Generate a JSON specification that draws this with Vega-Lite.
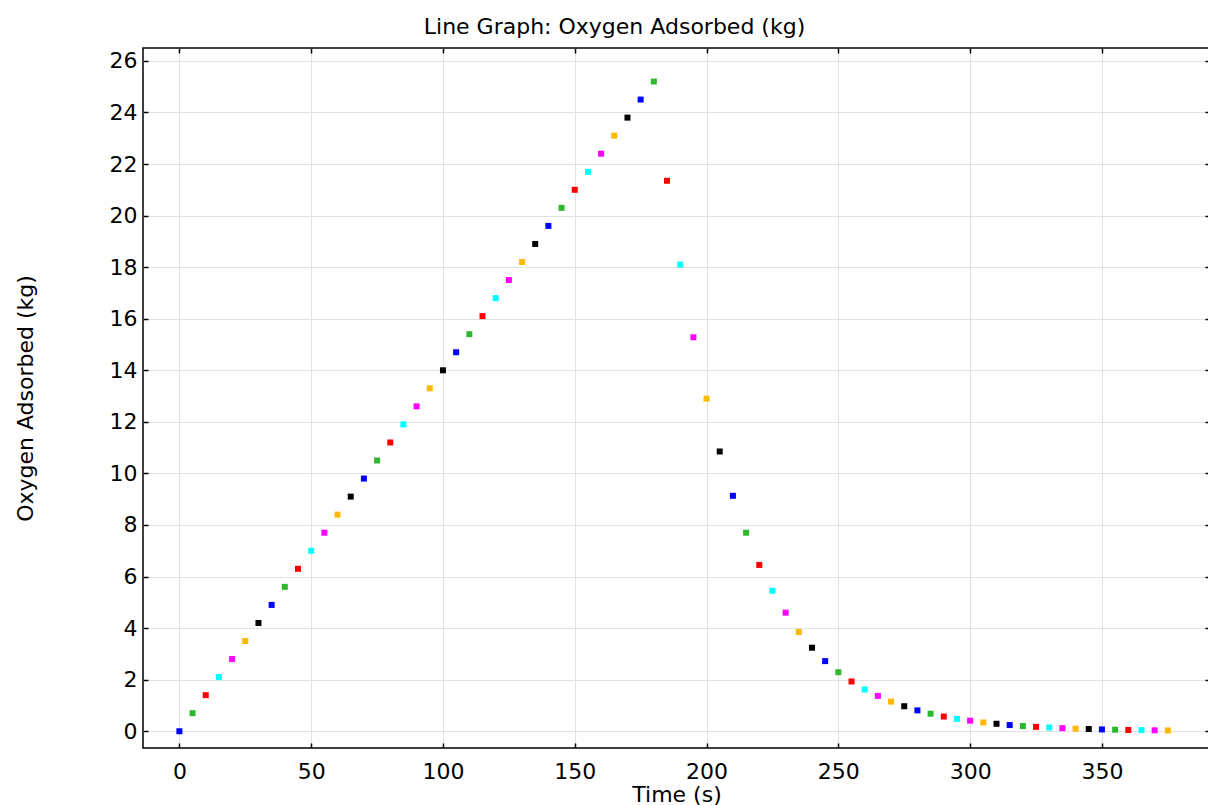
{
  "$schema": "https://vega.github.io/schema/vega-lite/v6.json",
  "width": 1067,
  "height": 700,
  "autosize": {"type": "none"},
  "padding": {"left": 143, "top": 48, "right": 0, "bottom": 57},
  "config": {
    "font": "DejaVu Sans",
    "view": {"stroke": "#000000", "strokeWidth": 1.5},
    "axis": {
      "domain": false,
      "tickColor": "#000000",
      "tickSize": -5,
      "tickWidth": 1.5,
      "gridColor": "#e2e2e2",
      "gridWidth": 1,
      "labelFont": "DejaVu Sans",
      "labelFontSize": 22,
      "labelColor": "#000000",
      "titleFont": "DejaVu Sans",
      "titleFontSize": 22,
      "titleFontWeight": "normal",
      "titleColor": "#000000"
    }
  },
  "title": {
    "text": "Line Graph: Oxygen Adsorbed (kg)",
    "font": "DejaVu Sans",
    "fontSize": 22,
    "fontWeight": "normal",
    "color": "#000000",
    "dx": -62,
    "offset": 8
  },
  "data": {
    "values": [
      {"t":0,"v":0,"g":0},{"t":5,"v":0.7,"g":1},{"t":10,"v":1.4,"g":2},{"t":15,"v":2.1,"g":3},{"t":20,"v":2.8,"g":4},{"t":25,"v":3.5,"g":5},{"t":30,"v":4.2,"g":6},
      {"t":35,"v":4.9,"g":0},{"t":40,"v":5.6,"g":1},{"t":45,"v":6.3,"g":2},{"t":50,"v":7.0,"g":3},{"t":55,"v":7.7,"g":4},{"t":60,"v":8.4,"g":5},{"t":65,"v":9.1,"g":6},
      {"t":70,"v":9.8,"g":0},{"t":75,"v":10.5,"g":1},{"t":80,"v":11.2,"g":2},{"t":85,"v":11.9,"g":3},{"t":90,"v":12.6,"g":4},{"t":95,"v":13.3,"g":5},{"t":100,"v":14.0,"g":6},
      {"t":105,"v":14.7,"g":0},{"t":110,"v":15.4,"g":1},{"t":115,"v":16.1,"g":2},{"t":120,"v":16.8,"g":3},{"t":125,"v":17.5,"g":4},{"t":130,"v":18.2,"g":5},{"t":135,"v":18.9,"g":6},
      {"t":140,"v":19.6,"g":0},{"t":145,"v":20.3,"g":1},{"t":150,"v":21.0,"g":2},{"t":155,"v":21.7,"g":3},{"t":160,"v":22.4,"g":4},{"t":165,"v":23.1,"g":5},{"t":170,"v":23.8,"g":6},
      {"t":175,"v":24.5,"g":0},{"t":180,"v":25.2,"g":1},{"t":185,"v":21.35,"g":2},{"t":190,"v":18.1,"g":3},{"t":195,"v":15.28,"g":4},{"t":200,"v":12.9,"g":5},{"t":205,"v":10.85,"g":6},
      {"t":210,"v":9.13,"g":0},{"t":215,"v":7.7,"g":1},{"t":220,"v":6.45,"g":2},{"t":225,"v":5.45,"g":3},{"t":230,"v":4.6,"g":4},{"t":235,"v":3.85,"g":5},{"t":240,"v":3.24,"g":6},
      {"t":245,"v":2.72,"g":0},{"t":250,"v":2.29,"g":1},{"t":255,"v":1.93,"g":2},{"t":260,"v":1.62,"g":3},{"t":265,"v":1.37,"g":4},{"t":270,"v":1.15,"g":5},{"t":275,"v":0.97,"g":6},
      {"t":280,"v":0.81,"g":0},{"t":285,"v":0.68,"g":1},{"t":290,"v":0.57,"g":2},{"t":295,"v":0.48,"g":3},{"t":300,"v":0.41,"g":4},{"t":305,"v":0.34,"g":5},{"t":310,"v":0.29,"g":6},
      {"t":315,"v":0.24,"g":0},{"t":320,"v":0.2,"g":1},{"t":325,"v":0.17,"g":2},{"t":330,"v":0.145,"g":3},{"t":335,"v":0.12,"g":4},{"t":340,"v":0.1,"g":5},{"t":345,"v":0.085,"g":6},
      {"t":350,"v":0.07,"g":0},{"t":355,"v":0.06,"g":1},{"t":360,"v":0.05,"g":2},{"t":365,"v":0.043,"g":3},{"t":370,"v":0.036,"g":4},{"t":375,"v":0.03,"g":5}
    ]
  },
  "layer": [
    {
      "mark": {"type": "square", "filled": true, "opacity": 1, "size": 36},
      "encoding": {
        "x": {
          "field": "t", "type": "quantitative",
          "scale": {"domain": [-13.8, 391.0], "nice": false, "zero": false},
          "axis": {"orient": "bottom", "values": [0,50,100,150,200,250,300,350], "title": "Time (s)", "labelPadding": 18, "titlePadding": 2, "grid": true}
        },
        "y": {
          "field": "v", "type": "quantitative",
          "scale": {"domain": [-0.65, 26.5], "nice": false, "zero": false},
          "axis": {"orient": "left", "values": [0,2,4,6,8,10,12,14,16,18,20,22,24,26], "title": "Oxygen Adsorbed (kg)", "labelPadding": 11, "titlePadding": 72, "grid": true}
        },
        "color": {
          "field": "g", "type": "nominal",
          "scale": {"domain": [0,1,2,3,4,5,6], "range": ["#0000ff","#2db82d","#ff0000","#00ffff","#ff00ff","#ffb800","#000000"]},
          "legend": null
        }
      }
    },
    {
      "mark": {"type": "point", "opacity": 0},
      "encoding": {
        "x": {
          "field": "t", "type": "quantitative",
          "scale": {"domain": [-13.8, 391.0], "nice": false, "zero": false},
          "axis": {"orient": "top", "values": [0,50,100,150,200,250,300,350], "labels": false, "title": null, "grid": false}
        },
        "y": {
          "field": "v", "type": "quantitative",
          "scale": {"domain": [-0.65, 26.5], "nice": false, "zero": false},
          "axis": {"orient": "right", "values": [0,2,4,6,8,10,12,14,16,18,20,22,24,26], "labels": false, "title": null, "grid": false}
        }
      }
    }
  ],
  "resolve": {"axis": {"x": "independent", "y": "independent"}}
}
